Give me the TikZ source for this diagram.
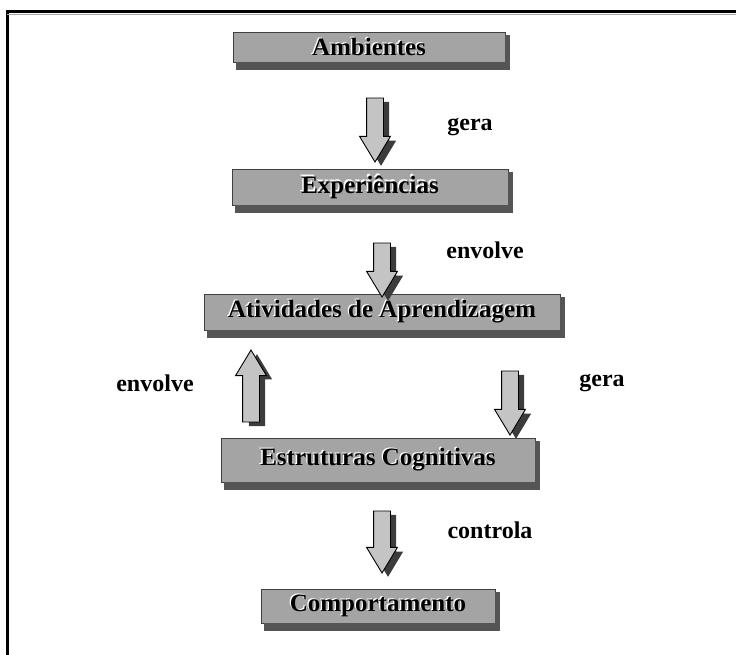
\documentclass[tikz,border=0pt]{standalone}
\usepackage{fontspec}
\setmainfont{Liberation Serif}
\usetikzlibrary{shapes.arrows,calc}

\definecolor{boxgray}{HTML}{A4A4A4}
\definecolor{shadegray}{HTML}{555555}
\definecolor{arrowgray}{HTML}{C4C4C4}
\definecolor{arrowshade}{HTML}{3C3C3C}

\tikzset{
  stagebox/.style={rectangle, fill=boxgray, draw=black!75, line width=0.8pt,
    inner sep=0pt},
  stagetext/.style={inner sep=0pt, font=\fontsize{25}{28}\selectfont\bfseries},
  boxshade/.style={fill=shadegray},
  linklabel/.style={font=\fontsize{24}{27}\selectfont\bfseries, inner sep=0pt},
  blockarrow/.style={single arrow, fill=arrowgray, draw=black, line width=0.9pt,
    inner xsep=0pt, inner ysep=8pt, single arrow head extend=7pt,
    single arrow tip angle=62, minimum height=#1, text width=0pt},
  blockshadow/.style={single arrow, fill=arrowshade, draw=none,
    inner xsep=0pt, inner ysep=8pt, single arrow head extend=7pt,
    single arrow tip angle=62, minimum height=#1, text width=0pt},
}

% box with a dark strip along its bottom and right edges, embossed title
\newcommand{\stage}[5]{%
  \node[stagebox, minimum width=#3, minimum height=#4] (#1) at #2 {};
  \fill[boxshade] ([xshift=3pt]#1.south west) rectangle ([xshift=5pt,yshift=-8pt]#1.south east);
  \fill[boxshade] ([yshift=-3pt]#1.north east) rectangle ([xshift=5pt]#1.south east);
  \node[stagetext, text=white] (#1-lit) at ([xshift=-1.3pt,yshift=1.3pt]#1.center) {#5};
  \node[stagetext] (#1-title) at (#1.center) {#5};
}

% block arrow with its shadow; #4 = rotation (-90 down, 90 up)
\newcommand{\flowarrow}[4]{%
  \node[blockshadow=#3, rotate=#4] (#1s) at ($#2+(6pt,-4pt)$) {};
  \node[blockarrow=#3, rotate=#4] (#1) at #2 {};
}

\begin{document}
\begin{tikzpicture}[x=1pt, y=-1pt]
  \useasboundingbox (0,0) rectangle (736,655);

  % outer frame, open to the right and bottom
  \coordinate (frameBL) at (7,655);
  \coordinate (frameTL) at (7,12);
  \coordinate (frameTR) at (736,12);
  \draw[line width=3pt] (frameBL) -- (frameTL) -- (frameTR);
  \draw[line width=0.8pt, black!35] ([yshift=-2.5pt]frameTL) -- ([yshift=-2.5pt]frameTR);

  % stages
  \stage{amb}{(369,47)}{272pt}{30pt}{Ambientes}
  \stage{exp}{(370,187)}{276pt}{36pt}{Experiências}
  \stage{ativ}{(382,312)}{356pt}{36pt}{Atividades de Aprendizagem}
  \stage{estr}{(378,460)}{314pt}{44pt}{Estruturas Cognitivas}
  \stage{comp}{(378,606)}{234pt}{34pt}{Comportamento}

  % links between stages
  \flowarrow{a1}{(375,123)}{64pt}{-90}
  \flowarrow{a2}{(382,263)}{54pt}{-90}
  \flowarrow{a3}{(251,393)}{72pt}{90}
  \flowarrow{a4}{(510,396)}{64pt}{-90}
  \flowarrow{a5}{(382,535)}{62pt}{-90}

  % link labels
  \node[linklabel] (l1) at (470,127) {gera};
  \node[linklabel] (l2) at (485,250) {envolve};
  \node[linklabel] (l3) at (155,383) {envolve};
  \node[linklabel] (l4) at (602,383) {gera};
  \node[linklabel] (l5) at (490,530) {controla};
\end{tikzpicture}
\end{document}
